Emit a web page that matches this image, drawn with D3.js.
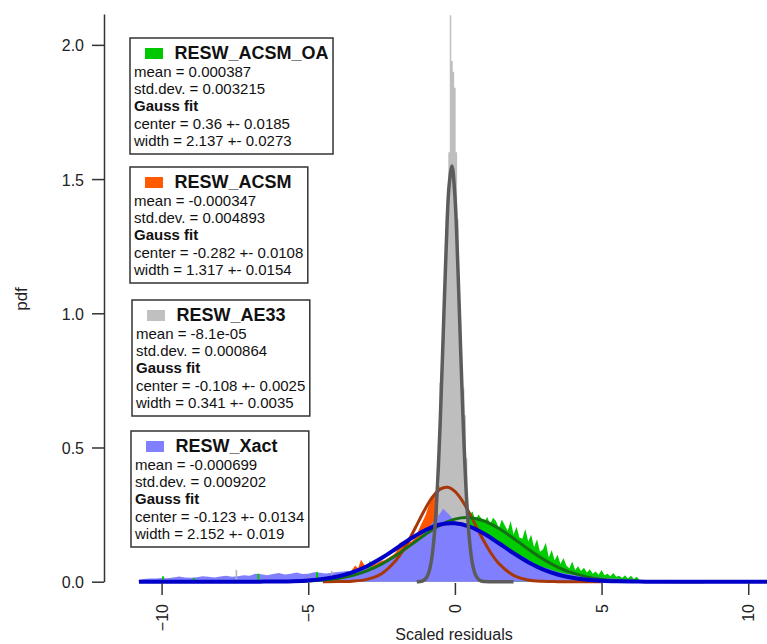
<!DOCTYPE html>
<html lang="en">
<head>
<meta charset="UTF-8">
<title>Scaled residuals pdf</title>
<script src="https://cdn.jsdelivr.net/npm/d3@7"></script>
<style>
  body { margin: 0; background: #fff; }
  svg { display: block; font-family: "Liberation Sans", Arial, sans-serif; }
  .axis text { font-size: 16px; fill: #222; }
  .axis line, .axis path { stroke: #333; stroke-width: 1.5; }
  .box text { font-size: 15px; fill: #111; }
  .box .title { font-size: 18px; font-weight: bold; }
  .box .bold { font-weight: bold; }
</style>
</head>
<body>
<svg width="767" height="644"></svg>
<script>
// ---- legend text ----
var seriesNames = ["RESW_ACSM_OA", "RESW_ACSM", "RESW_AE33", "RESW_Xact"];
var meanText = ["0.000387", "-0.000347", "-8.1e-05", "-0.000699"];
var stdText = ["0.003215", "0.004893", "0.000864", "0.009202"];
var centerText = ["0.36 +- 0.0185", "-0.282 +- 0.0108", "-0.108 +- 0.0025", "-0.123 +- 0.0134"];
var widthText = ["2.137 +- 0.0273", "1.317 +- 0.0154", "0.341 +- 0.0035", "2.152 +- 0.019"];

var xTicks = [-10, -5, 0, 5, 10];
var yTicks = [0, 0.5, 1.0, 1.5, 2.0];

// ---- histograms (bin start, bin step, pdf values) ----
var xactStart = -10.8, xactStep = 0.2;
var xactValues = [
  0.006, 0.010, 0.012, 0.012, 0.014, 0.013, 0.016, 0.019, 0.016, 0.015,
  0.017, 0.020, 0.018, 0.016, 0.019, 0.022, 0.018, 0.020, 0.024, 0.022,
  0.030, 0.028, 0.024, 0.029, 0.032, 0.027, 0.030, 0.034, 0.029, 0.030,
  0.035, 0.033, 0.031, 0.033, 0.036, 0.038, 0.040, 0.042, 0.045, 0.048,
  0.054, 0.062, 0.072, 0.082, 0.092, 0.105, 0.122, 0.140, 0.165, 0.190,
  0.215, 0.240, 0.272, 0.250, 0.225, 0.215, 0.205, 0.196, 0.186, 0.172,
  0.158, 0.146, 0.132, 0.120, 0.108, 0.098, 0.088, 0.075, 0.062, 0.055,
  0.048, 0.040, 0.034, 0.030, 0.026, 0.024, 0.022, 0.020, 0.018, 0.016,
  0.014, 0.012, 0.011, 0.010, 0.008, 0.006, 0.004, 0.002, 0
];

var acsmStart = -4.5, acsmStep = 0.1;
var acsmValues = [
  0.000, 0.004, 0.006, 0.010, 0.008, 0.014, 0.012, 0.020, 0.030, 0.026,
  0.045, 0.060, 0.050, 0.082, 0.064, 0.058, 0.070, 0.062, 0.066, 0.072,
  0.078, 0.080, 0.086, 0.094, 0.100, 0.112, 0.142, 0.150, 0.138, 0.162,
  0.148, 0.158, 0.176, 0.202, 0.224, 0.248, 0.282, 0.302, 0.330, 0.345,
  0.360, 0.365, 0.350, 0.320, 0.290, 0.250, 0.220, 0.195, 0.175, 0.160,
  0.140, 0.120, 0.100, 0.085, 0.072, 0.060, 0.050, 0.040, 0.032, 0.025,
  0.020, 0.015, 0.012, 0.009, 0.007, 0.005, 0.003, 0.002, 0.001, 0
];

var oaStart = -4.0, oaStep = 0.1;
var oaValues = [
  0.010, 0.012, 0.018, 0.042, 0.020, 0.024, 0.026, 0.030, 0.034, 0.036,
  0.040, 0.080, 0.044, 0.050, 0.055, 0.060, 0.066, 0.072, 0.078, 0.084,
  0.090, 0.096, 0.102, 0.110, 0.116, 0.124, 0.132, 0.140, 0.148, 0.156,
  0.164, 0.172, 0.180, 0.186, 0.192, 0.198, 0.204, 0.210, 0.214, 0.218,
  0.222, 0.226, 0.230, 0.236, 0.242, 0.250, 0.262, 0.228, 0.250, 0.236,
  0.220, 0.242, 0.214, 0.238, 0.226, 0.200, 0.232, 0.210, 0.190, 0.226,
  0.176, 0.205, 0.165, 0.160, 0.196, 0.150, 0.175, 0.128, 0.158, 0.112,
  0.120, 0.145, 0.090, 0.118, 0.080, 0.100, 0.066, 0.088, 0.060, 0.050,
  0.075, 0.044, 0.058, 0.040, 0.052, 0.034, 0.046, 0.030, 0.038, 0.026,
  0.044, 0.024, 0.030, 0.020, 0.032, 0.018, 0.022, 0.014, 0.024, 0.012,
  0.022, 0.010, 0.018, 0.005, 0.002, 0
];

var ae33Start = -1.0, ae33Step = 0.05;
var ae33Values = [
  0.010, 0.020, 0.030, 0.050, 0.070, 0.100, 0.140, 0.180, 0.240, 0.350,
  0.740, 0.800, 0.950, 1.100, 1.250, 1.400, 1.600, 2.110, 1.940, 1.900,
  1.840, 1.600, 1.350, 1.100, 0.900, 0.800, 0.720, 0.620, 0.460, 0.180,
  0.130, 0.100, 0.070, 0.050, 0.035, 0.025, 0.015
];
var ae33TailX = [-7.6, -1.1, 0.9, 2.0, 2.05];
var ae33TailY = [0.003, 0.006, 0.010, 0.006, 0];

// isolated single-bin spikes in the far tails
var oaSpikeX = [-9.95, -8.9, -6.7, -4.7, 7.74, 8.46];
var oaSpikeY = [0.020, 0.014, 0.030, 0.036, 0.006, 0.006];
var ae33SpikeX = [-7.45, -4.2];
var ae33SpikeY = [0.044, 0.040];

// ---- Gauss fit curves ----
var xactFitX = [-10.77, -7, -6.5, -6, -5.5, -5, -4.5, -4, -3.5, -3, -2.5, -2, -1.5, -1, -0.5, 0,
  0.5, 1, 1.5, 2, 2.5, 3, 3.5, 4, 4.5, 5, 5.5, 6, 6.5, 7, 10.64];
var xactFitY = [0, 0.0001, 0.0003, 0.0009, 0.0021, 0.0048, 0.0101, 0.0196, 0.035, 0.0578, 0.0881,
  0.1238, 0.1607, 0.1926, 0.213, 0.2175, 0.205, 0.1784, 0.1432, 0.1062, 0.0727, 0.0459, 0.0268,
  0.0144, 0.0072, 0.0033, 0.0014, 0.0005, 0.0002, 0.0001, 0];

var acsmFitX = [-4.5, -4, -3.5, -3, -2.5, -2, -1.75, -1.5, -1.25, -1, -0.75, -0.5, -0.25, 0,
  0.25, 0.5, 0.75, 1, 1.25, 1.5, 2, 2.5, 3, 3.5, 4, 5];
var acsmFitY = [0.00004, 0.0003, 0.0019, 0.0086, 0.0298, 0.0806, 0.1204, 0.1689, 0.2221, 0.2741,
  0.3174, 0.3449, 0.3516, 0.3362, 0.3017, 0.2539, 0.2006, 0.1486, 0.1033, 0.0674, 0.0237, 0.0064,
  0.0014, 0.0002, 0.00003, 0];

var oaFitX = [-6, -5, -4.5, -4, -3.5, -3, -2.5, -2, -1.5, -1, -0.5, 0, 0.5, 1, 1.5, 2, 2.5, 3,
  3.5, 4, 4.5, 5, 5.5, 6, 6.5, 7, 8.5];
var oaFitY = [0.0004, 0.0027, 0.006, 0.0122, 0.023, 0.0404, 0.0656, 0.0986, 0.1372, 0.1768, 0.211,
  0.2332, 0.2386, 0.2261, 0.1984, 0.1612, 0.1213, 0.0845, 0.0545, 0.0326, 0.018, 0.0092, 0.0044,
  0.0019, 0.0008, 0.0003, 0];

var ae33FitX = [-1.3, -1.2, -1.1, -1.0, -0.9, -0.8, -0.7, -0.6, -0.5, -0.4, -0.3, -0.2, -0.1, 0,
  0.1, 0.2, 0.3, 0.4, 0.5, 0.6, 0.7, 0.8, 0.9, 1.0, 2.0];
var ae33FitY = [0, 0.0009, 0.0034, 0.011, 0.0313, 0.079, 0.176, 0.3457, 0.599, 0.9164, 1.237,
  1.4735, 1.549, 1.437, 1.1766, 0.8502, 0.542, 0.305, 0.1514, 0.0664, 0.0257, 0.0088, 0.0026,
  0.0007, 0];

// ---- drawing ----
var svg = d3.select("svg");
var x = d3.scaleLinear().domain([-10.77, 10.64]).range([139, 767]);
var y = d3.scaleLinear().domain([0, 2.115]).range([581.7, 14]);

function binned(start, step, values) {
  return values.map(function (v, i) { return [start + i * step, v]; });
}
function paired(xs, ys) {
  return xs.map(function (v, i) { return [v, ys[i]]; });
}

svg.append("defs").append("clipPath").attr("id", "plotClip")
  .append("rect").attr("x", 138.5).attr("y", 0).attr("width", 640).attr("height", 600);

var plot = svg.append("g").attr("clip-path", "url(#plotClip)");

var area = d3.area()
  .x(function (d) { return x(d[0]); })
  .y0(y(0))
  .y1(function (d) { return y(d[1]); });

plot.append("path")
  .attr("d", area(binned(acsmStart, acsmStep, acsmValues)))
  .attr("fill", "#ff5500");

plot.append("path")
  .attr("d", area(binned(oaStart, oaStep, oaValues)))
  .attr("fill", "#00cc00");

var ae33Data = binned(ae33Start, ae33Step, ae33Values).concat(paired(ae33TailX, ae33TailY))
  .sort(function (a, b) { return a[0] - b[0]; });
plot.append("path")
  .attr("d", area.curve(d3.curveStep)(ae33Data))
  .attr("fill", "#bebebe");
area.curve(d3.curveLinear);

plot.append("path")
  .attr("d", area(binned(xactStart, xactStep, xactValues)))
  .attr("fill", "#8080ff");

plot.selectAll("rect.oaSpike")
  .data(paired(oaSpikeX, oaSpikeY))
  .enter()
  .append("rect")
  .attr("class", "oaSpike")
  .attr("x", function (d) { return x(d[0]) - 1; })
  .attr("width", 2)
  .attr("y", function (d) { return y(d[1]); })
  .attr("height", function (d) { return y(0) - y(d[1]); })
  .attr("fill", "#00cc00");

plot.selectAll("rect.aeSpike")
  .data(paired(ae33SpikeX, ae33SpikeY))
  .enter()
  .append("rect")
  .attr("class", "aeSpike")
  .attr("x", function (d) { return x(d[0]) - 0.75; })
  .attr("width", 1.5)
  .attr("y", function (d) { return y(d[1]); })
  .attr("height", function (d) { return y(0) - y(d[1]); })
  .attr("fill", "#b0b0b0");

var fitLine = d3.line()
  .x(function (d) { return x(d[0]); })
  .y(function (d) { return y(d[1]); })
  .curve(d3.curveCatmullRom.alpha(0.5));

plot.append("path")
  .attr("d", fitLine(paired(acsmFitX, acsmFitY)))
  .attr("fill", "none").attr("stroke", "#a8380a").attr("stroke-width", 3);

plot.append("path")
  .attr("d", fitLine(paired(oaFitX, oaFitY)))
  .attr("fill", "none").attr("stroke", "#157015").attr("stroke-width", 3);

plot.append("path")
  .attr("d", fitLine(paired(xactFitX, xactFitY)))
  .attr("fill", "none").attr("stroke", "#0000c8").attr("stroke-width", 4);

plot.append("path")
  .attr("d", fitLine(paired(ae33FitX, ae33FitY)))
  .attr("fill", "none").attr("stroke", "#5c5c5c").attr("stroke-width", 3.5);

// ---- axes ----
var yAxis = d3.axisLeft(y)
  .tickValues(yTicks)
  .tickFormat(d3.format(".1f"))
  .tickSize(12)
  .tickSizeOuter(0)
  .tickPadding(8);

svg.append("g").attr("class", "axis").attr("transform", "translate(104,0)").call(yAxis)
  .selectAll("text").attr("dy", "0.38em");

var xAxis = d3.axisBottom(x)
  .tickValues(xTicks)
  .tickFormat(d3.format("d"))
  .tickSize(12);

var xg = svg.append("g").attr("class", "axis").attr("transform", "translate(0,583)").call(xAxis);
xg.select(".domain").remove();
xg.selectAll("text")
  .attr("transform", "rotate(-90)")
  .attr("x", -21)
  .attr("y", 0)
  .attr("dy", "0.35em")
  .style("text-anchor", "end");

svg.append("text")
  .attr("x", 454).attr("y", 640)
  .attr("text-anchor", "middle")
  .style("font-size", "16px").style("fill", "#222")
  .text("Scaled residuals");

svg.append("text")
  .attr("transform", "translate(27,299) rotate(-90)")
  .attr("text-anchor", "middle")
  .style("font-size", "17px").style("fill", "#222")
  .text("pdf");

// ---- legend boxes ----
var swatchColors = ["#00c800", "#ff5a00", "#c0c0c0", "#8080ff"];
var boxLeft = [130, 130, 132, 131];
var boxTop = [38, 167, 300, 431];

seriesNames.forEach(function (name, i) {
  var g = svg.append("g").attr("class", "box");
  var frame = g.append("rect")
    .attr("x", boxLeft[i]).attr("y", boxTop[i])
    .attr("height", 116)
    .attr("fill", "#fff").attr("stroke", "#333").attr("stroke-width", 1.5);

  g.append("rect")
    .attr("x", boxLeft[i] + 15).attr("y", boxTop[i] + 10)
    .attr("width", 18).attr("height", 11)
    .attr("fill", swatchColors[i]);

  var right = 0;
  var title = g.append("text").attr("class", "title")
    .attr("x", boxLeft[i] + 44.5).attr("y", boxTop[i] + 21).text(name);
  right = Math.max(right, 44.5 + title.node().getComputedTextLength());

  var lines = [
    ["mean = " + meanText[i], false],
    ["std.dev. = " + stdText[i], false],
    ["Gauss fit", true],
    ["center = " + centerText[i], false],
    ["width = " + widthText[i], false]
  ];
  lines.forEach(function (ln, j) {
    var t = g.append("text")
      .attr("class", ln[1] ? "bold" : null)
      .attr("x", boxLeft[i] + 4)
      .attr("y", boxTop[i] + 39 + j * 17.2)
      .text(ln[0]);
    right = Math.max(right, 4 + t.node().getComputedTextLength());
  });
  frame.attr("width", right + 4.5);
});
</script>
</body>
</html>
